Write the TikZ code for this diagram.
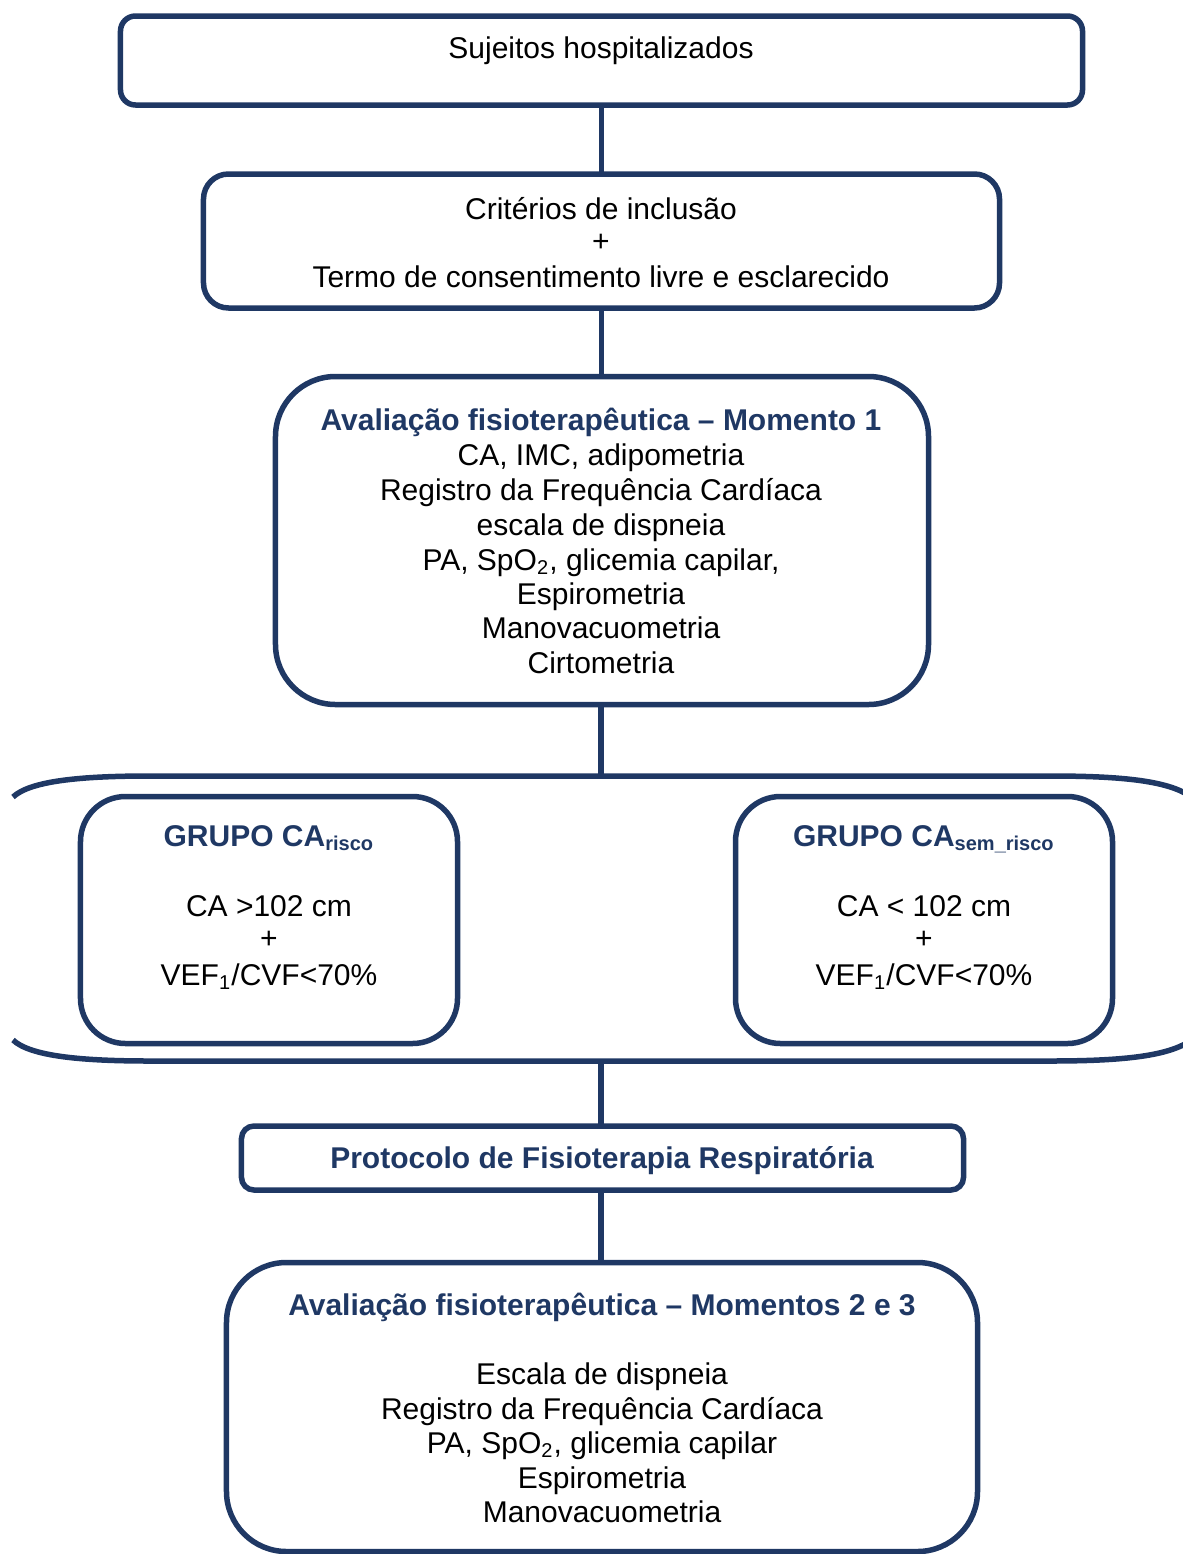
\documentclass[tikz,border=0pt]{standalone}
\usepackage{fontspec}
\setmainfont{Liberation Sans}
\definecolor{navy}{RGB}{31,56,100}
\begin{document}
\begin{tikzpicture}[x=0.4pt,y=-0.4pt,
  box/.style={draw=navy, line width=2.2pt, inner sep=0pt, outer sep=0pt},
  txt/.style={inner sep=0pt, anchor=base, font=\fontsize{12pt}{13.8pt}\selectfont},
  head/.style={txt, text=navy, font=\fontsize{12pt}{13.8pt}\selectfont\bfseries},
  link/.style={draw=navy, line width=2.2pt}]
\useasboundingbox (0,0) rectangle (1183,1554);

% boxes
\node[box, minimum width=384.8pt, minimum height=35.6pt, rounded corners=6pt] (b1) at (601.5,60.5) {};
\node[box, minimum width=318.4pt, minimum height=53.6pt, rounded corners=10pt] (b2) at (601.5,241) {};
\node[box, minimum width=261.2pt, minimum height=131.2pt, rounded corners=24pt] (b3) at (602,540.5) {};
\node[box, minimum width=150.8pt, minimum height=98.8pt, rounded corners=18pt] (gl) at (269,920) {};
\node[box, minimum width=150.8pt, minimum height=98.8pt, rounded corners=18pt] (gr) at (924,920) {};
\node[box, minimum width=288.8pt, minimum height=25.6pt, rounded corners=5pt] (b4) at (602.5,1158) {};
\node[box, minimum width=300.4pt, minimum height=115.6pt, rounded corners=24pt] (b5) at (602,1407) {};

% open bracket round the two groups
\coordinate (brtop) at (601,776);
\coordinate (brbot) at (601,1061);
\begin{scope}
\clip (0,0) rectangle (1183,1554);
\draw[link] (13,797) .. controls (30,781) and (80,776) .. (150,776) -- (1050,776)
  .. controls (1130,776) and (1175,782) .. (1195,800);
\draw[link] (13,1040) .. controls (30,1056) and (80,1061) .. (150,1061) -- (1050,1061)
  .. controls (1130,1061) and (1175,1055) .. (1195,1037);
\end{scope}

% connectors
\draw[link] (b1.south) -- (b1.south |- b2.north);
\draw[link] (b2.south) -- (b2.south |- b3.north);
\draw[link] (b3.south -| brtop) -- (brtop);
\draw[link] (brbot) -- (brbot |- b4.north);
\draw[link] (b4.south -| brbot) -- (brbot |- b5.north);

% texts
\node[txt] (t1) at (601,58) {Sujeitos hospitalizados};

\node[txt] (t2a) at (601,219) {Critérios de inclusão};
\node[txt] (t2b) at (601,251) {+};
\node[txt] (t2c) at (601,287) {Termo de consentimento livre e esclarecido};

\node[head] (t3h) at (601,430) {Avaliação fisioterapêutica – Momento 1};
\node[txt] (t3a) at (601,465) {CA, IMC, adipometria};
\node[txt] (t3b) at (601,500) {Registro da Frequência Cardíaca};
\node[txt] (t3c) at (601,535) {escala de dispneia};
\node[txt] (t3d) at (601,570) {PA, SpO\textsubscript{2}, glicemia capilar,};
\node[txt] (t3e) at (601,604) {Espirometria};
\node[txt] (t3f) at (601,638) {Manovacuometria};
\node[txt] (t3g) at (601,673) {Cirtometria};

\node[head] (tlh) at (269,846) {GRUPO CA\textsubscript{risco}};
\node[txt] (tla) at (269,916) {CA >102 cm};
\node[txt] (tlb) at (269,948) {+};
\node[txt] (tlc) at (269,985) {VEF\textsubscript{1}/CVF<70\%};

\node[head] (trh) at (924,846) {GRUPO CA\textsubscript{sem\_risco}};
\node[txt] (tra) at (924,916) {CA < 102 cm};
\node[txt] (trb) at (924,948) {+};
\node[txt] (trc) at (924,985) {VEF\textsubscript{1}/CVF<70\%};

\node[head] (t4) at (602,1168) {Protocolo de Fisioterapia Respiratória};

\node[head] (t5h) at (602,1315) {Avaliação fisioterapêutica – Momentos 2 e 3};
\node[txt] (t5a) at (602,1384) {Escala de dispneia};
\node[txt] (t5b) at (602,1419) {Registro da Frequência Cardíaca};
\node[txt] (t5c) at (602,1453) {PA, SpO\textsubscript{2}, glicemia capilar};
\node[txt] (t5d) at (602,1488) {Espirometria};
\node[txt] (t5e) at (602,1522) {Manovacuometria};
\end{tikzpicture}
\end{document}
